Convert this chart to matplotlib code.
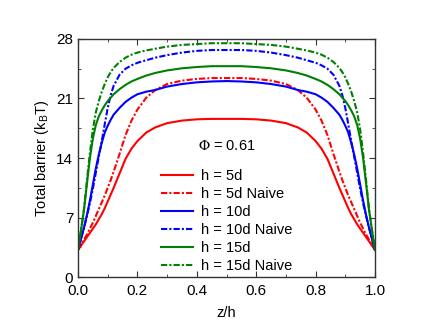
import matplotlib
matplotlib.use("Agg")
import matplotlib.pyplot as plt
from matplotlib.ticker import MultipleLocator

plt.rcParams['font.family'] = ['Liberation Sans', 'DejaVu Sans']
plt.rcParams['mathtext.fontset'] = 'stix'
plt.rcParams['mathtext.rm'] = 'Liberation Sans'

z = [0, .01, .02, .03, .04, .05, .06, .07, .08, .09, .10, .11, .12, .14, .16, .18,
     .20, .23, .26, .30, .35, .40, .45, .50,
     .55, .60, .65, .70, .74, .77, .80, .82, .84, .86, .88, .89, .90, .91, .92,
     .93, .94, .95, .96, .97, .98, .99, 1.0]

h5 = [3.2, 3.7, 4.2, 4.7, 5.2, 5.7, 6.2, 6.8, 7.4, 8.1, 8.9, 9.7, 10.5, 12.2, 13.9, 15.1,
      16.0, 17.0, 17.6, 18.1, 18.4, 18.55, 18.6, 18.6,
      18.6, 18.55, 18.4, 18.1, 17.6, 17.0, 16.0, 15.1, 13.9, 12.2, 10.5, 9.7, 8.9, 8.1, 7.4,
      6.8, 6.2, 5.7, 5.2, 4.7, 4.2, 3.7, 3.2]
h5_naive = [3.2, 3.8, 4.4, 5.0, 5.7, 6.4, 7.2, 8.0, 8.8, 9.6, 10.5, 11.4, 12.4, 14.5, 16.7, 18.4,
            19.7, 21.1, 22.0, 22.7, 23.1, 23.3, 23.4, 23.4,
            23.4, 23.3, 23.1, 22.7, 22.0, 21.1, 19.7, 18.4, 16.7, 14.5, 12.4, 11.4, 10.5, 9.6, 8.8,
            8.0, 7.2, 6.4, 5.7, 5.0, 4.4, 3.8, 3.2]
h10 = [3.2, 4.5, 5.8, 7.3, 9.0, 10.9, 12.8, 14.4, 15.8, 17.0, 17.8, 18.5, 19.1, 19.9, 20.6, 21.1,
       21.5, 21.8, 22.0, 22.4, 22.7, 22.9, 23.0, 23.05,
       23.0, 22.9, 22.7, 22.4, 22.0, 21.8, 21.5, 21.1, 20.6, 19.9, 19.1, 18.5, 17.8, 17.0, 15.8,
       14.4, 12.8, 10.9, 9.0, 7.3, 5.8, 4.5, 3.2]
h10_naive = [3.2, 4.5, 5.8, 7.2, 8.7, 10.4, 12.3, 14.2, 16.0, 18.0, 19.9, 21.4, 22.5, 23.8, 24.5, 24.9,
             25.2, 25.5, 25.8, 26.1, 26.4, 26.6, 26.7, 26.7,
             26.7, 26.6, 26.4, 26.1, 25.8, 25.5, 25.2, 24.9, 24.5, 23.8, 22.5, 21.4, 19.9, 18.0, 16.0,
             14.2, 12.3, 10.4, 8.7, 7.2, 5.8, 4.5, 3.2]
h15 = [3.2, 5.5, 7.9, 11.0, 14.0, 16.3, 17.9, 18.9, 19.6, 20.2, 20.7, 21.1, 21.5, 22.1, 22.6, 23.0,
       23.3, 23.7, 24.0, 24.3, 24.55, 24.7, 24.8, 24.8,
       24.8, 24.7, 24.55, 24.3, 24.0, 23.7, 23.3, 23.0, 22.6, 22.1, 21.5, 21.1, 20.7, 20.2, 19.6,
       18.9, 17.9, 16.3, 14.0, 11.0, 7.9, 5.5, 3.2]
h15_naive = [3.2, 5.5, 8.0, 11.4, 14.6, 17.4, 19.4, 20.7, 21.8, 22.7, 23.5, 24.1, 24.6, 25.3, 25.8, 26.15,
             26.4, 26.65, 26.85, 27.1, 27.3, 27.4, 27.5, 27.5,
             27.5, 27.4, 27.3, 27.1, 26.85, 26.65, 26.4, 26.15, 25.8, 25.3, 24.6, 24.1, 23.5, 22.7, 21.8,
             20.7, 19.4, 17.4, 14.6, 11.4, 8.0, 5.5, 3.2]

series = [
    (h5, 'h = 5d', 'red', '-'),
    (h5_naive, 'h = 5d Naive', 'red', 'dd'),
    (h10, 'h = 10d', 'blue', '-'),
    (h10_naive, 'h = 10d Naive', 'blue', 'dd'),
    (h15, 'h = 15d', 'green', '-'),
    (h15_naive, 'h = 15d Naive', 'green', 'dd'),
]

fig = plt.figure(figsize=(4.36, 3.33), dpi=100)
ax = fig.add_axes([0.179, 0.168, 0.681, 0.715])

for y, lab, c, ls in series:
    if ls == 'dd':
        ax.plot(z, y, color=c, lw=1.5, linestyle=(0, (3, 1, 1, 1)), label=lab)
    else:
        ax.plot(z, y, color=c, lw=1.5, linestyle='-', label=lab)

ax.set_xlim(0, 1)
ax.set_ylim(0, 28)
ax.xaxis.set_major_locator(MultipleLocator(0.2))
ax.xaxis.set_minor_locator(MultipleLocator(0.1))
ax.yaxis.set_major_locator(MultipleLocator(7))
ax.yaxis.set_minor_locator(MultipleLocator(3.5))
ax.tick_params(which='both', direction='in', top=True, right=True, labelsize=11,
               color='#333333')
ax.tick_params(axis='x', pad=5)
ax.tick_params(which='major', length=4)
ax.tick_params(which='minor', length=2.5)
for s in ax.spines.values():
    s.set_color('#333333')
    s.set_linewidth(1.0)

ax.set_xlabel('z/h', fontsize=10.5, labelpad=6)
ax.set_ylabel(r'Total barrier (k$_{\mathrm{B}}$T)', fontsize=10.5, labelpad=4,
              math_fontfamily='custom')

ax.text(0.5, 0.55, r'$\Phi$ = 0.61', transform=ax.transAxes, fontsize=10.5,
        ha='center', va='center')

ax.legend(loc='center', bbox_to_anchor=(0.5, 0.235), frameon=False, fontsize=10.5,
          handlelength=2.2, labelspacing=0.27, handletextpad=0.55)

fig.savefig('out.png', dpi=100)
